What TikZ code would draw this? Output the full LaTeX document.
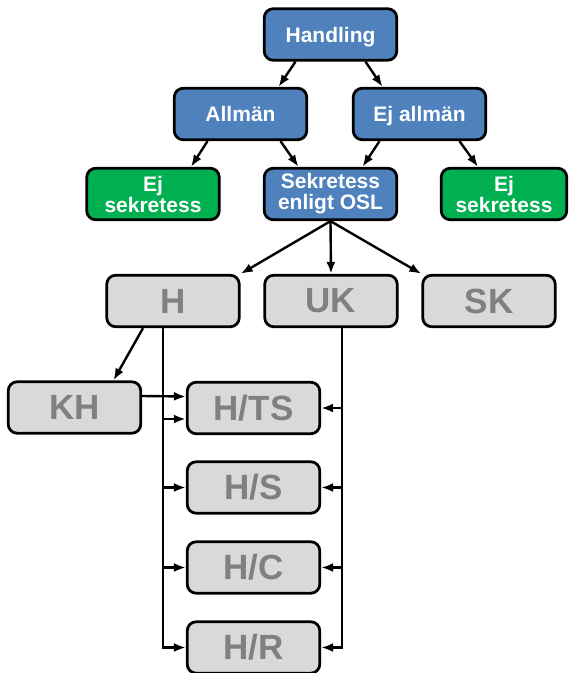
\documentclass[tikz,border=0pt]{standalone}
\usepackage{fontspec}
\setmainfont{Liberation Sans}
\usetikzlibrary{arrows.meta}
\definecolor{blu}{HTML}{4F81BD}
\definecolor{grn}{HTML}{00B050}
\definecolor{gryfill}{HTML}{D9D9D9}
\definecolor{grytext}{HTML}{808080}

\begin{document}
\begin{tikzpicture}[x=1pt,y=-1pt,
    box/.style={rectangle,rounded corners=9pt,draw,line width=2.8pt,
      minimum width=132.5pt,minimum height=51.5pt,inner sep=2pt,align=center},
    oneline/.style={text depth=0pt},
    arr/.style={draw,line width=2.4pt,-{Latex[length=12pt,width=9pt]}}]
  \useasboundingbox (0,0) rectangle (569,673);
  \begin{scope}[every node/.style={box,text=white,
      font=\fontsize{21}{21}\selectfont\bfseries}]
    \node[fill=blu,oneline] (handling) at (330.5,34.5) {Handling};
    \node[fill=blu,oneline] (allm) at (240.5,114) {Allmän};
    \node[fill=blu,oneline] (ejallm) at (419.5,114) {Ej allmän};
    \node[fill=grn] (ejsekl) at (153,194) {Ej\\sekretess};
    \node[fill=blu] (osl) at (330.5,194) {Sekretess\\enligt OSL};
    \node[fill=grn,minimum width=125.5pt] (ejsekr) at (504,194) {Ej\\sekretess};
  \end{scope}
  \begin{scope}[every node/.style={box,fill=gryfill,text=grytext,
      font=\fontsize{35}{35}\selectfont\bfseries}]
    \node (h) at (173,301) {H};
    \node (uk) at (331,301) {UK};
    \node (sk) at (489,301) {SK};
    \node (kh) at (74.5,407.5) {KH};
    \node (hts) at (253.5,408) {H/TS};
    \node (hs) at (253.5,487.5) {H/S};
    \node (hc) at (253.5,567.5) {H/C};
    \node (hr) at (253.5,647.5) {H/R};
  \end{scope}
  \coordinate (lbot) at (163,647.5);
  \coordinate (rbot) at (342,647.5);
  \begin{scope}[every edge/.style={arr}]
    \path ([xshift=-35pt]handling.south) edge ([xshift=38pt]allm.north);
    \path ([xshift=35pt]handling.south) edge ([xshift=-37pt]ejallm.north);
    \path ([xshift=-33pt]allm.south) edge ([xshift=38pt]ejsekl.north);
    \path ([xshift=40pt]allm.south) edge ([xshift=-32pt]osl.north);
    \path ([xshift=-40pt]ejallm.south) edge ([xshift=32pt]osl.north);
    \path ([xshift=40pt]ejallm.south) edge ([xshift=-26pt]ejsekr.north);
    \path (osl.south) edge (h.north east);
    \path (osl.south) edge (uk.north);
    \path (osl.south) edge (sk.north west);
    \path ([xshift=-30pt]h.south) edge ([xshift=39pt]kh.north);
    \path ([yshift=11.5pt]kh.east) edge ([yshift=11.5pt]hts.west);
    \path (lbot |- 0,419) edge (hts.west |- 0,419);
    \path (lbot |- hs.west) edge (hs.west);
    \path (lbot |- hc.west) edge (hc.west);
    \path (rbot |- hts.east) edge (hts.east);
    \path (rbot |- hs.east) edge (hs.east);
    \path (rbot |- hc.east) edge (hc.east);
  \end{scope}
  \draw[arr] (h.south -| lbot) |- (hr.west);
  \draw[arr] (uk.south -| rbot) |- (hr.east);
\end{tikzpicture}
\end{document}
